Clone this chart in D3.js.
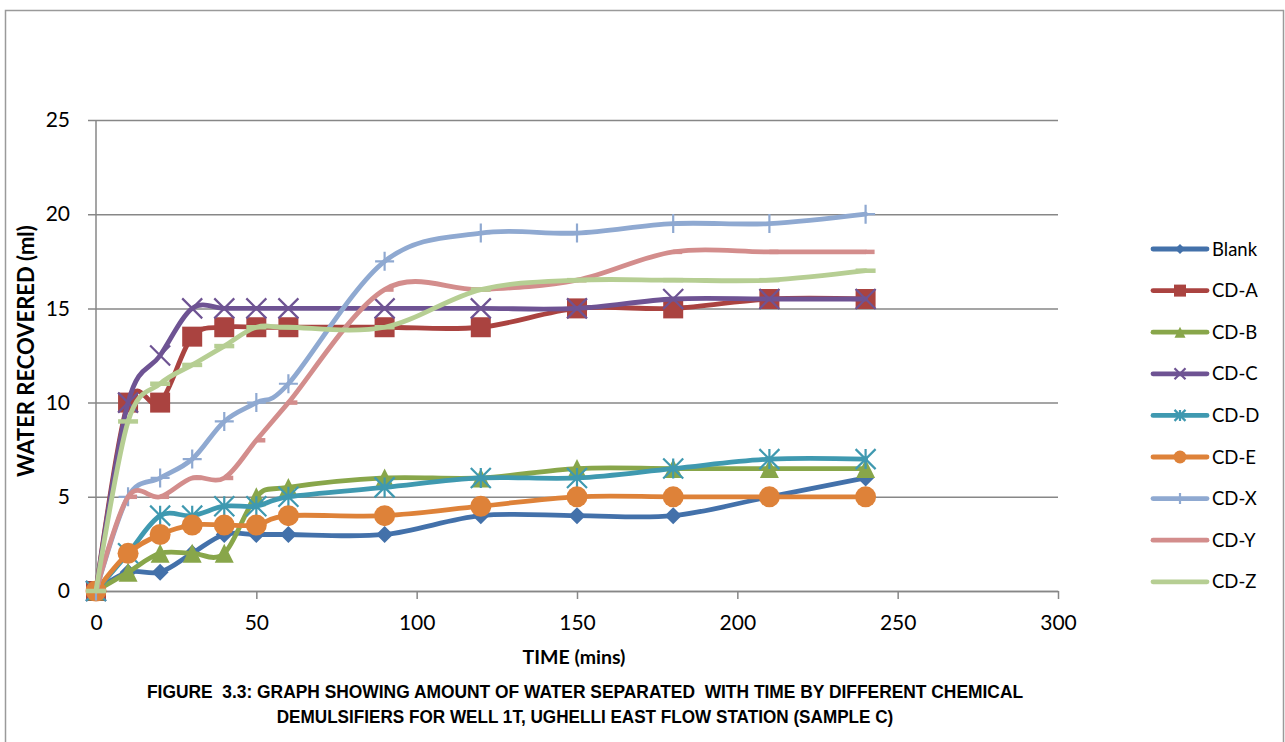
<!DOCTYPE html>
<html>
<head>
<meta charset="utf-8">
<script src="https://cdn.jsdelivr.net/npm/d3@7"></script>
<style>
  html, body { margin: 0; padding: 0; background: #fff; }
  svg { display: block; }
  .tick text { font-family: Lato, "Open Sans", sans-serif; }
</style>
</head>
<body>
<svg id="chart" width="1285" height="742"></svg>
<script>
// Sampling times (minutes)
const times = [0, 10, 20, 30, 40, 50, 60, 90, 120, 150, 180, 210, 240];

// Water recovered (ml) per demulsifier
const blank = [0, 1, 1, 2, 3, 3, 3, 3, 4, 4, 4, 5, 6];
const cdA   = [0, 10, 10, 13.5, 14, 14, 14, 14, 14, 15, 15, 15.5, 15.5];
const cdB   = [0, 1, 2, 2, 2, 5, 5.5, 6, 6, 6.5, 6.5, 6.5, 6.5];
const cdC   = [0, 10, 12.5, 15, 15, 15, 15, 15, 15, 15, 15.5, 15.5, 15.5];
const cdD   = [0, 2, 4, 4, 4.5, 4.5, 5, 5.5, 6, 6, 6.5, 7, 7];
const cdE   = [0, 2, 3, 3.5, 3.5, 3.5, 4, 4, 4.5, 5, 5, 5, 5];
const cdX   = [0, 5, 6, 7, 9, 10, 11, 17.5, 19, 19, 19.5, 19.5, 20];
const cdY   = [0, 5, 5, 6, 6, 8, 10, 16, 16, 16.5, 18, 18, 18];
const cdZ   = [0, 9, 11, 12, 13, 14, 14, 14, 16, 16.5, 16.5, 16.5, 17];

const seriesNames = ["Blank", "CD-A", "CD-B", "CD-C", "CD-D", "CD-E", "CD-X", "CD-Y", "CD-Z"];
const seriesValues = [blank, cdA, cdB, cdC, cdD, cdE, cdX, cdY, cdZ];

// Axis ticks
const xTicks = [0, 50, 100, 150, 200, 250, 300];
const yTicks = [0, 5, 10, 15, 20, 25];

const colors  = ["#4371AA", "#AA4340", "#88A64A", "#6E5393", "#3F99B0", "#DE8239", "#8FA9D1", "#D38D8C", "#B6CE93"];
const markers = ["diamond", "square", "triangle", "x", "star", "circle", "plus", "dash", "longdash"];

const svg = d3.select("#chart");

// Outer chart frame
svg.append("rect")
  .attr("x", 5.5).attr("y", 10.5)
  .attr("width", 1278).attr("height", 760)
  .attr("fill", "none").attr("stroke", "#9a9a9a").attr("stroke-width", 1.5);

const plot = { left: 96, right: 1058, top: 120, bottom: 591 };

const x = d3.scaleLinear().domain([0, 300]).range([plot.left, plot.right]);
const y = d3.scaleLinear().domain([0, 25]).range([plot.bottom, plot.top]);

const gridColor = "#878787";

// Horizontal gridlines + y axis
const yAxis = d3.axisLeft(y).tickValues(yTicks).tickSize(plot.right - plot.left + 8).tickPadding(18);
const gy = svg.append("g").attr("transform", `translate(${plot.right},0)`).call(yAxis);
gy.select(".domain").remove();
gy.selectAll(".tick line").attr("stroke", gridColor).attr("stroke-width", 1.5);
gy.selectAll(".tick text").attr("font-size", 21).attr("fill", "#000");

// Vertical axis line
svg.append("line")
  .attr("x1", plot.left).attr("x2", plot.left)
  .attr("y1", plot.top).attr("y2", plot.bottom)
  .attr("stroke", gridColor).attr("stroke-width", 1.5);

// X axis
const xAxis = d3.axisBottom(x).tickValues(xTicks).tickSize(8).tickPadding(16).tickSizeOuter(0);
const gx = svg.append("g").attr("transform", `translate(0,${plot.bottom})`).call(xAxis);
gx.select(".domain").attr("stroke", gridColor).attr("stroke-width", 1.5);
gx.selectAll(".tick line").attr("stroke", gridColor).attr("stroke-width", 1.5);
gx.selectAll(".tick text").attr("font-size", 21).attr("fill", "#000");

// Marker shapes
function markerPath(type, s) {
  const h = s / 2;
  switch (type) {
    case "diamond":  return `M0,${-h}L${h},0L0,${h}L${-h},0Z`;
    case "square":   return `M${-h},${-h}H${h}V${h}H${-h}Z`;
    case "triangle": return `M0,${-h}L${h},${h}H${-h}Z`;
    case "x":        return `M${-h},${-h}L${h},${h}M${h},${-h}L${-h},${h}`;
    case "star":     return `M${-h},${-h}L${h},${h}M${h},${-h}L${-h},${h}M0,${-h}V${h}`;
    case "plus":     return `M${-h},0H${h}M0,${-h}V${h}`;
    case "dash":     return `M0,0H${h}`;
    case "longdash": return `M${-h},0H${h}`;
    default:         return "";
  }
}
const filled = t => t === "diamond" || t === "square" || t === "triangle";

function drawMarker(g, type, color, size) {
  if (type === "circle") {
    g.append("circle").attr("r", size / 2).attr("fill", color);
  } else if (filled(type)) {
    g.append("path").attr("d", markerPath(type, size)).attr("fill", color);
  } else {
    const w = (type === "dash" || type === "longdash") ? 4.5 : 2.2;
    g.append("path").attr("d", markerPath(type, size))
      .attr("fill", "none").attr("stroke", color).attr("stroke-width", w);
  }
}

const markerSize = { diamond: 17, square: 20, triangle: 19, x: 20, star: 20, circle: 21, plus: 19, dash: 18, longdash: 20 };

const line = d3.line()
  .x(d => x(d[0])).y(d => y(d[1]))
  .curve(d3.curveCardinal.tension(0));

seriesNames.forEach((name, i) => {
  const pts = times.map((t, j) => [t, seriesValues[i][j]]);
  const g = svg.append("g");
  g.append("path")
    .attr("d", line(pts))
    .attr("fill", "none")
    .attr("stroke", colors[i])
    .attr("stroke-width", 4.8)
    .attr("stroke-linejoin", "round")
    .attr("stroke-linecap", "round");
  pts.forEach(p => {
    const m = g.append("g").attr("transform", `translate(${x(p[0])},${y(p[1])})`);
    drawMarker(m, markers[i], colors[i], markerSize[markers[i]]);
  });
});

// Legend
const legend = svg.append("g");
seriesNames.forEach((name, i) => {
  const ly = 249 + i * 41.6;
  const g = legend.append("g").attr("transform", `translate(0,${ly})`);
  g.append("line")
    .attr("x1", 1153).attr("x2", 1207)
    .attr("stroke", colors[i]).attr("stroke-width", 4.8).attr("stroke-linecap", "round");
  const m = g.append("g").attr("transform", "translate(1180,0)");
  const small = { diamond: 10, square: 12, triangle: 11, x: 11, star: 11, circle: 13, plus: 11, dash: 0, longdash: 0 };
  if (small[markers[i]] > 0) drawMarker(m, markers[i], colors[i], small[markers[i]]);
  g.append("text")
    .attr("x", 1212).attr("y", 0).attr("dy", "0.36em")
    .attr("font-family", "Lato, 'Open Sans', sans-serif")
    .attr("font-size", 18.5).attr("fill", "#000")
    .text(name);
});

// Axis titles
svg.append("text")
  .attr("x", 574).attr("y", 664)
  .attr("text-anchor", "middle")
  .attr("font-family", "Lato, 'Open Sans', sans-serif")
  .attr("font-weight", "bold").attr("font-size", 19.5)
  .text("TIME (mins)");

svg.append("text")
  .attr("transform", "translate(34,351) rotate(-90)")
  .attr("text-anchor", "middle")
  .attr("font-family", "Lato, 'Open Sans', sans-serif")
  .attr("font-weight", "bold").attr("font-size", 22)
  .text("WATER RECOVERED (ml)");

// Figure caption in a condensed bold face
const caption = [
  { text: "FIGURE  3.3: GRAPH SHOWING AMOUNT OF WATER SEPARATED  WITH TIME BY DIFFERENT CHEMICAL", y: 698, width: 877 },
  { text: "DEMULSIFIERS FOR WELL 1T, UGHELLI EAST FLOW STATION (SAMPLE C)", y: 723, width: 617 }
];
caption.forEach(c => {
  const t = svg.append("text")
    .attr("x", 0).attr("y", 0)
    .attr("text-anchor", "middle")
    .attr("font-family", "'Liberation Sans Narrow', 'Arial Narrow', 'Liberation Sans', Arial, sans-serif")
    .attr("font-weight", "bold").attr("font-size", 18)
    .attr("xml:space", "preserve")
    .style("white-space", "pre")
    .text(c.text);
  const w = t.node().getComputedTextLength();
  const k = c.width / w;
  t.attr("transform", `translate(585,${c.y}) scale(${k},1)`);
});
</script>
</body>
</html>
